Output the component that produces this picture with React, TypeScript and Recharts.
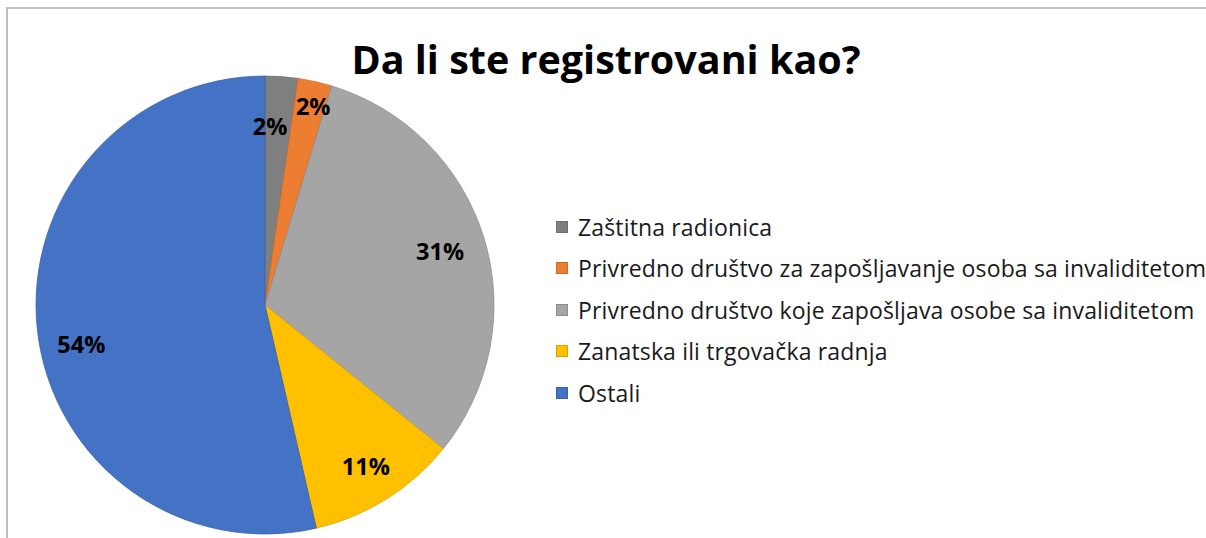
import React from 'react';
import { PieChart, Pie, Cell } from 'recharts';

const categories = [
  'Zaštitna radionica',
  'Privredno društvo za zapošljavanje osoba sa invaliditetom',
  'Privredno društvo koje zapošljava osobe sa invaliditetom',
  'Zanatska ili trgovačka radnja',
  'Ostali',
];
const values = [2.3, 2.4, 31.1, 10.6, 53.6];
const colors = ['#7F7F7F', '#ED7D31', '#A5A5A5', '#FFC000', '#4472C4'];
const strokes = ['#6f6f6f', '#c9692a', '#8c8c8c', '#d9a300', '#3a62a8'];
const title = 'Da li ste registrovani kao?';

const data = categories.map((name, i) => ({ name, value: values[i] }));

// label radius fraction and angle nudge (style only)
const labelR = [0.78, 0.895, 0.8, 0.83, 0.82];
const labelNudge = [2.5, -1, 0, 0, 5.5];

const RAD = Math.PI / 180;
const FONT = '"Open Sans", Lato, sans-serif';

const renderLabel = (props: any) => {
  const { cx, cy, midAngle, outerRadius, percent, index } = props;
  const r = outerRadius * labelR[index];
  const a = (midAngle + labelNudge[index]) * RAD;
  const x = cx + r * Math.cos(-a);
  const y = cy + r * Math.sin(-a);
  return (
    <text
      x={x}
      y={y}
      textAnchor="middle"
      dominantBaseline="central"
      fontFamily={FONT}
      fontWeight={700}
      fontSize={23.5}
      fill="#000"
    >
      {`${Math.round(percent * 100)}%`}
    </text>
  );
};

export default function App() {
  return (
    <div style={{ position: 'absolute', left: 0, top: 0, width: 1206, height: 538, background: '#fff', overflow: 'hidden' }}>
      <div
        style={{
          position: 'absolute',
          left: 6,
          top: 7,
          width: 1300,
          height: 700,
          borderLeft: '2px solid #BFBFBF',
          borderTop: '2px solid #BFBFBF',
        }}
      />
      <div
        style={{
          position: 'absolute',
          left: 0,
          width: 1212,
          top: 34,
          textAlign: 'center',
          fontFamily: FONT,
          fontWeight: 700,
          fontSize: 39.5,
          color: '#000',
          lineHeight: '50px',
        }}
      >
        {title}
      </div>
      <div style={{ position: 'absolute', left: 0, top: 0 }}>
        <PieChart width={1206} height={538} margin={{ top: 0, right: 0, bottom: 0, left: 0 }}>
          <Pie
            data={data}
            dataKey="value"
            nameKey="name"
            cx={265}
            cy={305}
            outerRadius={229}
            startAngle={90}
            endAngle={-270}
            label={renderLabel}
            labelLine={false}
            isAnimationActive={false}
            strokeWidth={0.75}
          >
            {data.map((d, i) => (
              <Cell key={d.name} fill={colors[i]} stroke={strokes[i]} />
            ))}
          </Pie>
        </PieChart>
      </div>
      <div
        style={{
          position: 'absolute',
          left: 556,
          top: 206,
          fontFamily: FONT,
          fontSize: 23,
          letterSpacing: 0.15,
          color: '#1a1a1a',
        }}
      >
        {categories.map((c, i) => (
          <div key={c} style={{ display: 'flex', alignItems: 'center', height: 41.5 }}>
            <span
              style={{
                display: 'inline-block',
                width: 10,
                height: 10,
                background: colors[i],
                border: `1px solid ${strokes[i]}`,
                marginRight: 10,
              }}
            />
            <span style={{ whiteSpace: 'nowrap' }}>{c}</span>
          </div>
        ))}
      </div>
    </div>
  );
}
